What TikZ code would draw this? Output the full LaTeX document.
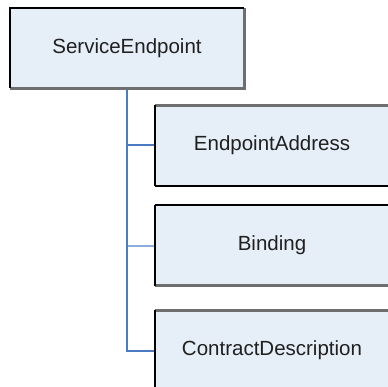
\documentclass[tikz,border=0pt]{standalone}
\usepackage{fontspec}
\setmainfont{Liberation Sans}
\definecolor{boxfill}{HTML}{E6EEF7}
\definecolor{edgegray}{HTML}{6E6E6E}
\definecolor{linkblue}{HTML}{4A7CC4}
\definecolor{linklight}{HTML}{8DAEDC}
\definecolor{txt}{HTML}{202020}
\tikzset{
  box/.style={fill=boxfill, inner sep=0pt, minimum width=234pt, minimum height=80pt,
    font=\fontsize{20.5}{24}\selectfont, text=txt},
  darkedge/.style={draw=black, line width=2pt},
  grayedge/.style={draw=edgegray, line width=3pt},
  link/.style={draw=linkblue, line width=2pt},
  linkpale/.style={draw=linklight, line width=2pt},
}
\begin{document}
\begin{tikzpicture}[x=1pt,y=-1pt]
\useasboundingbox (0,0) rectangle (387,387);
\node[box] (se) at (127,48) {ServiceEndpoint};
\node[box] (ea) at (272,145.5) {EndpointAddress};
\node[box] (bi) at (272,245.5) {Binding};
\node[box] (cd) at (272,350.5) {ContractDescription};
% parent borders
\draw[grayedge] (se.north east) -- (se.south east) -- (se.south west);
\draw[darkedge] (se.south west) -- (se.north west) -- (se.north east);
% child borders
\draw[grayedge] (ea.north west) -- (ea.north east);
\draw[darkedge] (ea.south west) -- (ea.south east);
\draw[darkedge] (ea.south west) -- (ea.north west);
\draw[darkedge] (bi.north west) -- (bi.north east);
\draw[grayedge] (bi.south west) -- (bi.south east);
\draw[darkedge] (bi.south west) -- (bi.north west);
\draw[grayedge] (cd.north west) -- (cd.north east);
\draw[darkedge] (cd.south west) -- (cd.north west);
% connectors
\coordinate (stem) at ([yshift=-1.5pt]se.south);
\draw[link] (stem) |- ([xshift=-1pt]cd.west);
\draw[link] (stem) |- ([xshift=-1pt]ea.west);
\draw[linkpale] ([xshift=1pt]stem |- bi.west) -- ([xshift=-1pt]bi.west);
\end{tikzpicture}
\end{document}
